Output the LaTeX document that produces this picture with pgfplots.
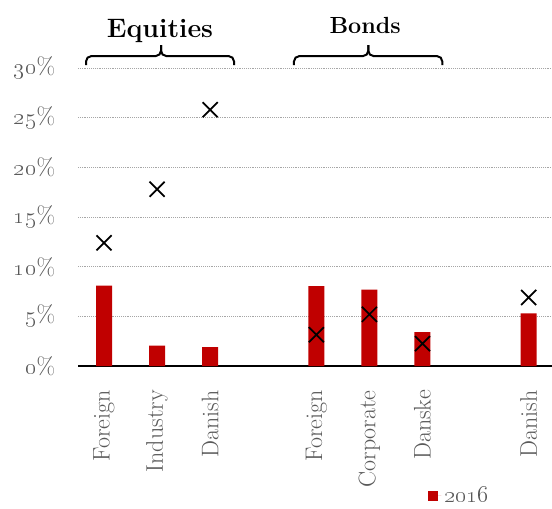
\RequirePackage{fix-cm}
\documentclass[border=0pt]{standalone}
\usepackage{pgfplots}
\pgfplotsset{compat=1.18}
\definecolor{barred}{HTML}{C00000}
\definecolor{labgray}{HTML}{595959}
\definecolor{gridgray}{HTML}{A6A6A6}
\newcommand{\lab}{\fontsize{18}{21}\selectfont}
\begin{document}
\begin{tikzpicture}
\useasboundingbox (0,0) rectangle (414pt,381pt);
\begin{axis}[
    at={(58.5pt,106.5pt)}, anchor=south west,
    scale only axis, width=355.5pt, height=223.5pt,
    xmin=-0.49, xmax=8.44, ymin=0, ymax=30,
    clip=false,
    ytick={0,5,...,30},
    yticklabels={\oldstylenums{0}\%,\oldstylenums{5}\%,\oldstylenums{10}\%,\oldstylenums{15}\%,\oldstylenums{20}\%,\oldstylenums{25}\%,\oldstylenums{30}\%},
    xtick={0,1,2,4,5,6,8},
    xticklabels={Foreign,Industry,Danish,Foreign,Corporate,Danske,Danish},
    major tick length=0pt,
    separate axis lines,
    axis x line*=bottom, axis y line*=left,
    x axis line style={-, black, line width=1.1pt},
    y axis line style={draw=none},
    ymajorgrids,
    grid style={densely dotted, gridgray, line width=0.6pt},
    ticklabel style={font=\lab, text=labgray, inner sep=0pt},
    yticklabel style={anchor=east},
    yticklabel shift=17pt,
    xticklabel style={rotate=90, anchor=east},
    xticklabel shift=18pt,
    legend style={draw=none, fill=none, at={(0.738,-0.435)}, anchor=west,
        font=\lab, text=labgray, inner sep=0pt},
]
\addplot[ybar, bar width=12pt, fill=barred, draw=none,
    legend image code/.code={\fill[barred] (0pt,-3.75pt) rectangle (7.5pt,3.75pt);
        \path (0pt,0pt) -- (10pt,0pt);}]
    coordinates {(0,8.1) (1,2.05) (2,1.9) (4,8.05) (5,7.7) (6,3.4) (8,5.3)};
\addplot[only marks, mark=x, mark size=8pt, mark options={line width=1.3pt, black}, forget plot]
    coordinates {(0,12.4) (1,17.8) (2,25.8) (4,3.15) (5,5.2) (6,2.25) (8,6.9)};
\legend{\oldstylenums{2016}}
% group brackets
\draw[line width=1.5pt, rounded corners=4pt] (axis cs:-0.339,30.3) |- (axis cs:1.074,31.2) -- (axis cs:1.074,32.3);
\draw[line width=1.5pt, rounded corners=4pt] (axis cs:2.449,30.3) |- (axis cs:1.074,31.2) -- (axis cs:1.074,32.3);
\draw[line width=1.5pt, rounded corners=4pt] (axis cs:3.579,30.3) |- (axis cs:4.979,31.2) -- (axis cs:4.979,32.3);
\draw[line width=1.5pt, rounded corners=4pt] (axis cs:6.373,30.3) |- (axis cs:4.979,31.2) -- (axis cs:4.979,32.3);
\node[anchor=base, font=\bfseries\fontsize{20}{24}\selectfont] at (axis cs:1.055,33.12) {Equities};
\node[anchor=base, font=\bfseries\fontsize{17.5}{21}\selectfont] at (axis cs:4.92,33.52) {Bonds};
\end{axis}
\end{tikzpicture}
\end{document}
